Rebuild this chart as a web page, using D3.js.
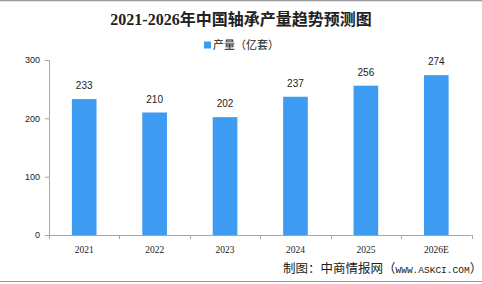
<!DOCTYPE html>
<html><head><meta charset="utf-8">
<script src="https://cdn.jsdelivr.net/npm/d3@7"></script>
<style>body{margin:0;background:#fff}svg{display:block}</style>
</head><body>
<svg id="c" width="482" height="284"></svg>
<script>
const categories = ["2021","2022","2023","2024","2025","2026E"];
const values = [233,210,202,237,256,274];
const yTicks = [0,100,200,300];
const title = "2021-2026年中国轴承产量趋势预测图";
const seriesName = "产量（亿套）";
const sourceParts = ["制图：中商情报网（","WWW.ASKCI.COM","）"];

const svg = d3.select("#c");
const W = 482, H = 284;
const x = d3.scaleBand().domain(categories).range([49, 471.5]).paddingInner(0.65).paddingOuter(0.325);
const y = d3.scaleLinear().domain([0,300]).range([235,60]);
const blue = "#3d9cf2", axisCol = "#a6a6a6";
const cjk = "'Noto Sans CJK SC','Noto Sans',sans-serif";

// frame lines
svg.append("line").attr("x1",0).attr("x2",W).attr("y1",0.5).attr("y2",0.5).attr("stroke","#9a9a9a").attr("stroke-width",1.5);
svg.append("line").attr("x1",0).attr("x2",W).attr("y1",281.5).attr("y2",281.5).attr("stroke","#9a9a9a").attr("stroke-width",1.2);

// title
svg.append("text").attr("x",241).attr("y",25).attr("text-anchor","middle")
  .style("font-family","'Liberation Serif','Noto Sans CJK SC',serif").style("font-weight","bold").style("font-size","16px").attr("fill","#222").text(title);

// legend
svg.append("rect").attr("x",204).attr("y",41.5).attr("width",7).attr("height",7).attr("fill",blue);
svg.append("text").attr("x",213).attr("y",49).style("font-family",cjk).style("font-size","11px").attr("fill","#222").text(seriesName);

// bars
svg.selectAll("rect.bar").data(values).enter().append("rect").attr("class","bar")
  .attr("x",(d,i)=>x(categories[i])).attr("width",x.bandwidth())
  .attr("y",d=>y(d)).attr("height",d=>y(0)-y(d)).attr("fill",blue);

// value labels
svg.selectAll("text.val").data(values).enter().append("text").attr("class","val")
  .attr("x",(d,i)=>x(categories[i])+x.bandwidth()/2).attr("y",d=>y(d)-10)
  .attr("text-anchor","middle").style("font-family","'Liberation Sans',Arial,sans-serif").style("font-size","10px").attr("fill","#222").text(d=>d);

// y axis
const ya = svg.append("g").attr("transform","translate(49,0)")
  .call(d3.axisLeft(y).tickValues(yTicks).tickSize(4).tickPadding(5));
ya.select(".domain").attr("stroke",axisCol);
ya.selectAll(".tick line").attr("stroke",axisCol);
ya.selectAll("text").style("font-family","'Liberation Sans',Arial,sans-serif").style("font-size","9px").attr("fill","#222");

// x axis
const xa = svg.append("g").attr("transform","translate(0,235)");
xa.append("line").attr("x1",45).attr("x2",471.5).attr("y1",0.5).attr("y2",0.5).attr("stroke",axisCol);
const bounds = categories.map(c=>x(c)-x.step()*x.paddingInner()/2).concat([471.5]);
xa.selectAll("line.tk").data(bounds).enter().append("line").attr("class","tk")
  .attr("x1",d=>Math.round(d)+0.5).attr("x2",d=>Math.round(d)+0.5).attr("y1",0).attr("y2",4).attr("stroke",axisCol);
xa.selectAll("text").data(categories).enter().append("text")
  .attr("x",c=>x(c)+x.bandwidth()/2).attr("y",18).attr("text-anchor","middle")
  .style("font-family","'Liberation Serif','DejaVu Serif',serif").style("font-size","9.5px").attr("fill","#222").text(c=>c);

// source
const st = svg.append("text").attr("x",283).attr("y",273).style("font-family",cjk).style("font-size","12.5px").attr("fill","#222");
st.append("tspan").text(sourceParts[0]);
st.append("tspan").style("font-family","'Liberation Mono',monospace").style("font-size","9.5px").text(sourceParts[1]);
st.append("tspan").text(sourceParts[2]);
</script>
</body></html>
